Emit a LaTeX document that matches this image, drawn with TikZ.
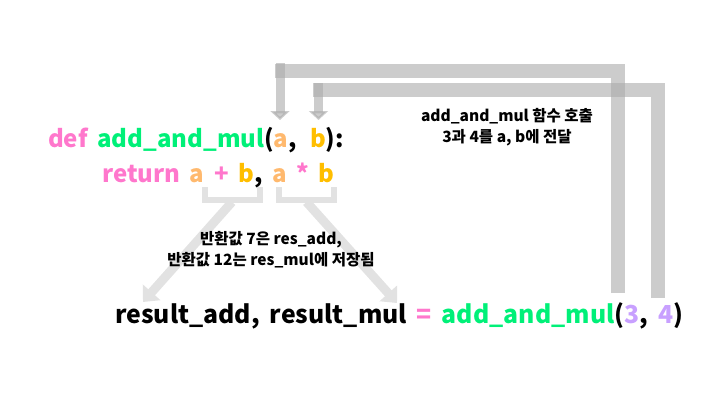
\documentclass[tikz,border=0pt]{standalone}
\usepackage{fontspec}
\setmainfont{Noto Sans CJK KR}
\usetikzlibrary{arrows.meta}
\definecolor{keypink}{RGB}{255,119,204}
\definecolor{fngreen}{RGB}{0,240,120}
\definecolor{argorange}{RGB}{255,185,110}
\definecolor{argyellow}{RGB}{255,190,0}
\definecolor{numpurple}{RGB}{200,160,255}
\definecolor{pathgray}{RGB}{170,170,170}
\definecolor{retgray}{RGB}{226,226,226}
\newcommand\codesize[1]{\fontsize{#1}{28}\selectfont\bfseries\spaceskip=0.4em\relax}
\begin{document}
\begin{tikzpicture}
    [x=1pt,y=-1pt,
     codeline/.style={anchor=base west,inner sep=0pt,font=\codesize{24}},
     note/.style={align=center,inner sep=0pt,font=\fontsize{15.5}{21}\selectfont\bfseries},
     callpath/.style={draw=pathgray,opacity=0.6,line width=14pt},
     callarrow/.style={draw=pathgray,opacity=0.6,line width=9pt,-{Triangle[width=19pt,length=9pt]}},
     bracket/.style={draw=retgray,line width=6pt},
     retarrow/.style={draw=retgray,line width=9pt,-{Triangle[width=23pt,length=13pt]}}]
    \useasboundingbox (0,0) rectangle (720,405);
    % call paths
    \coordinate (three) at (617.5,293);
    \coordinate (four) at (658,298);
    \coordinate (argA) at (280,120);
    \coordinate (argB) at (318.5,120);
    \draw [callpath] (three) -- (three |- 0,70.5) -- (275,70.5);
    \draw [callarrow] (argA |- 0,63) -- (argA);
    \draw [callpath] (four) -- (four |- 0,90) -- (313,90);
    \draw [callarrow] (argB |- 0,83) -- (argB);
    % return paths
    \coordinate (sumEnd) at (143,302);
    \coordinate (mulEnd) at (397,303);
    \draw [bracket] (205,187) -- (205,200) -- (260,200) -- (260,187);
    \draw [bracket] (279,187) -- (279,200) -- (334,200) -- (334,187);
    \draw [retarrow] (232,202) -- (sumEnd);
    \draw [retarrow] (306.5,202) -- (mulEnd);
    % code
    \node [codeline] (def) at (48,147) {\textcolor{keypink}{def} \textcolor{fngreen}{add\_and\_mul}(\textcolor{argorange}{a},\hspace{0.55em}\textcolor{argyellow}{b}):};
    \node [codeline] (ret) at (102,182) {\textcolor{keypink}{return} \textcolor{argorange}{a} \textcolor{keypink}{+} \textcolor{argyellow}{b}, \textcolor{argorange}{a} \textcolor{keypink}{*} \textcolor{argyellow}{b}};
    \node [codeline,font=\codesize{24.8}] (call) at (115,323) {result\_add, result\_mul \textcolor{keypink}{=} \textcolor{fngreen}{add\_and\_mul}(\textcolor{numpurple}{3}, \textcolor{numpurple}{4})};
    % notes
    \node [note] (noteCall) at (507,127) {add\_and\_mul 함수 호출\\3과 4를 a, b에 전달};
    \node [note] (noteRet) at (271,250) {반환값 7은 res\_add,\\반환값 12는 res\_mul에 저장됨};
  \end{tikzpicture}
\end{document}
